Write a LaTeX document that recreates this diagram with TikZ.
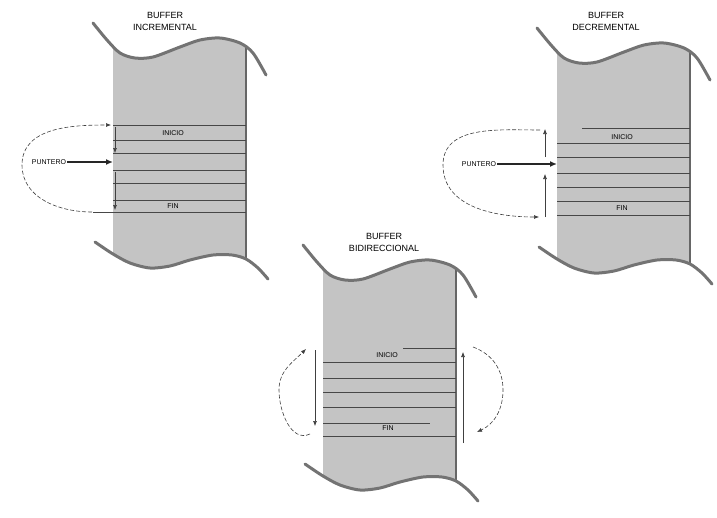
\documentclass[tikz,border=0pt]{standalone}
\usepackage{fontspec}
\setmainfont{Liberation Sans}
\usetikzlibrary{arrows.meta}

\tikzset{
  buffill/.style={fill=black!23},
  wave/.style={draw=black!55, line width=3pt, line cap=round},
  bufedge/.style={draw=black!60, line width=1.4pt},
  rule/.style={draw=black!72, line width=0.9pt},
  buffer/.pic={
    \begin{scope}
      \clip (0,0) rectangle (133,260);
      \fill[buffill] plot[smooth] coordinates {(-20,0) (-6,17) (7,30) (22,35) (40,34) (67,24) (87,17) (107,15) (127,20) (140,30) (153,52)}
        -- plot[smooth] coordinates {(155,256) (145,245) (133,236) (119,232) (100,232) (77,237) (57,243) (37,245) (17,240) (0,231) (-18,219)} -- cycle;
    \end{scope}
    \draw[bufedge] (133,22) -- (133,237);
    \draw[wave] plot[smooth] coordinates {(-20,0) (-6,17) (7,30) (22,35) (40,34) (67,24) (87,17) (107,15) (127,20) (140,30) (153,52)};
    \draw[wave] plot[smooth] coordinates {(-18,219) (0,231) (17,240) (37,245) (57,243) (77,237) (100,232) (119,232) (133,236) (145,245) (155,256)};
  }
}

\begin{document}
\begin{tikzpicture}[
  x=1pt, y=-1pt,
  title/.style={font=\fontsize{9}{12}\selectfont, align=center},
  label/.style={font=\fontsize{7}{8}\selectfont, inner sep=1pt},
  ptr/.style={-{Latex[length=7pt,width=6pt]}, line width=2.6pt, draw=black!85},
  vert/.style={-{Latex[length=5pt,width=4pt]}, line width=0.6pt, draw=black!75},
  loop/.style={-{Latex[length=5pt,width=4pt]}, dash pattern=on 4pt off 2pt, line width=0.6pt, draw=black!75}
]
  \useasboundingbox (0,0) rectangle (717,517);

  % the three buffers
  \pic at (113,23) {buffer};
  \pic at (557,28) {buffer};
  \pic at (323,245) {buffer};

  % slots
  \foreach \y in {125,140,153,170,183,200}
    \draw[rule] (113,\y) -- (246,\y);
  \draw[rule] (93,212) -- (246,212);
  \draw[rule] (582,128) -- (690,128);
  \foreach \y in {143,157,173,187,201,215}
    \draw[rule] (557,\y) -- (690,\y);
  \draw[rule] (403,348) -- (456,348);
  \foreach \y in {362,378,392,407,436}
    \draw[rule] (323,\y) -- (456,\y);
  \draw[rule] (323,423) -- (430,423);

  % titles
  \node[title] (t1) at (165,21) {BUFFER\\INCREMENTAL};
  \node[title] (t2) at (606,21) {BUFFER\\DECREMENTAL};
  \node[title] (t3) at (384,242) {BUFFER\\BIDIRECCIONAL};

  % incremental
  \node[label] (ini1) at (173,133) {INICIO};
  \node[label] (fin1) at (173,206) {FIN};
  \node[label] (pun1) at (49,162) {PUNTERO};
  \coordinate (e1) at (113,162);
  \coordinate (a1) at (92,212);
  \coordinate (b1) at (111,125);
  \draw[ptr] (pun1) -- (e1);
  \draw[vert] (115,127) -- (115,153);
  \draw[vert] (115,172) -- (115,210);
  \draw[loop] (a1) to[out=180, in=-90] (22,165) to[out=90, in=180] (b1);

  % decremental
  \node[label] (ini2) at (622,137) {INICIO};
  \node[label] (fin2) at (622,208) {FIN};
  \node[label] (pun2) at (479,164) {PUNTERO};
  \coordinate (e2) at (557,164);
  \coordinate (a2) at (540,130);
  \coordinate (b2) at (539,217);
  \draw[ptr] (pun2) -- (e2);
  \draw[vert] (545,157) -- (545,129);
  \draw[vert] (545,217) -- (545,174);
  \draw[loop] (a2) to[out=180, in=90] (443,165) to[out=-90, in=180] (b2);

  % bidireccional
  \node[label] (ini3) at (387,355) {INICIO};
  \node[label] (fin3) at (388,428) {FIN};
  \draw[vert] (315,350) -- (315,426);
  \draw[vert] (463,443) -- (463,352);
  \coordinate (a3) at (310,434);
  \coordinate (b3) at (306,349);
  \coordinate (c3) at (473,347);
  \coordinate (d3) at (477,432);
  \draw[loop] (a3) to[out=205, in=-90] (279,390) to[out=90, in=225] (b3);
  \draw[loop] (c3) to[out=-20, in=90] (503,390) to[out=-90, in=25] (d3);
\end{tikzpicture}
\end{document}
